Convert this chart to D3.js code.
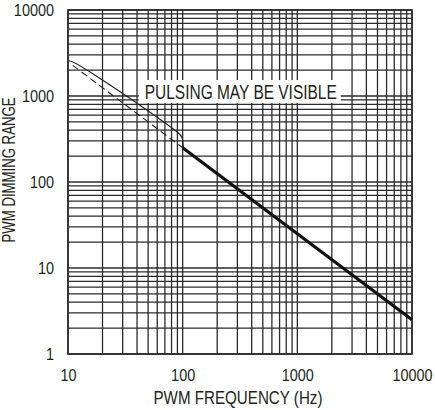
<!DOCTYPE html>
<html>
<head>
<meta charset="utf-8">
<script src="https://cdn.jsdelivr.net/npm/d3@7"></script>
<style>
  body { margin: 0; background: #fff; }
  text { font-family: "Liberation Sans Narrow", "Arial Narrow", "Liberation Sans", sans-serif; fill: #231f20; }
</style>
</head>
<body>
<div id="chart"></div>
<script>
// axis ticks
const xTickValues = [10, 100, 1000, 10000];
const xTickLabels = ['10', '100', '1000', '10000'];
const yTickValues = [1, 10, 100, 1000, 10000];
const yTickLabels = ['1', '10', '100', '1000', '10000'];

// thick line: max dimming range vs PWM frequency
const rangeFreq = [100, 10000];
const rangeValue = [250, 2.5];

// dashed extension below 100Hz
const dashFreq = [11, 100];
const dashValue = [2270, 250];

// outline of the "pulsing may be visible" region
const zoneFreq = [10.1, 11.6, 94, 100, 101.5];
const zoneValue = [2560, 2540, 380, 330, 245];

const labelText = 'PULSING MAY BE VISIBLE';
const labelFreq = 44;
const labelValue = 1000;

const width = 435;
const height = 410;
const margin = { top: 10, right: 23, bottom: 56, left: 68 };
const chartWidth = width - margin.left - margin.right;
const chartHeight = height - margin.top - margin.bottom;
const squeeze = 0.85; // no narrow font installed

function fitWidth(sel, target) {
    sel.attr('textLength', target).attr('lengthAdjust', 'spacingAndGlyphs');
}

const xScale = d3.scaleLog()
    .domain([10, 10000])
    .range([0, chartWidth]);

const yScale = d3.scaleLog()
    .domain([1, 10000])
    .range([chartHeight, 0]);

let svg = d3.select('#chart')
    .append('svg')
    .attr('width', width)
    .attr('height', height);

let graph = svg.append('g')
    .attr('transform', `translate(${margin.left},${margin.top})`);

// grid (every 1..9 per decade)
graph.append('g')
    .selectAll('line')
    .data(xScale.ticks())
    .enter()
    .append('line')
    .attr('x1', d => xScale(d))
    .attr('x2', d => xScale(d))
    .attr('y1', 0)
    .attr('y2', chartHeight)
    .attr('stroke', '#2b2b2b')
    .attr('stroke-width', 1.3);

graph.append('g')
    .selectAll('line')
    .data(yScale.ticks())
    .enter()
    .append('line')
    .attr('y1', d => yScale(d))
    .attr('y2', d => yScale(d))
    .attr('x1', 0)
    .attr('x2', chartWidth)
    .attr('stroke', '#2b2b2b')
    .attr('stroke-width', 1.3);

graph.append('rect')
    .attr('width', chartWidth)
    .attr('height', chartHeight)
    .attr('fill', 'none')
    .attr('stroke', '#2b2b2b')
    .attr('stroke-width', 1.6);

// x axis labels
graph.append('g')
    .attr('transform', `translate(0,${chartHeight})`)
    .call(d3.axisBottom(xScale).tickValues(xTickValues).tickFormat((d, i) => xTickLabels[i]).tickSize(0).tickPadding(15))
    .call(g => g.select('.domain').remove())
    .selectAll('text')
    .attr('font-size', 17)
    .attr('fill', null)
    .attr('transform', `scale(${squeeze},1)`);

// y axis labels
graph.append('g')
    .call(d3.axisLeft(yScale).tickValues(yTickValues).tickFormat((d, i) => yTickLabels[i]).tickSize(0).tickPadding(14))
    .call(g => g.select('.domain').remove())
    .selectAll('text')
    .attr('font-size', 17)
    .attr('fill', null)
    .attr('x', -14 / squeeze)
    .attr('dy', '0.3em')
    .attr('transform', `scale(${squeeze},1)`);

svg.selectAll('g').attr('font-family', null);

// axis titles
svg.append('text')
    .attr('x', 238)
    .attr('y', 404)
    .attr('text-anchor', 'middle')
    .attr('font-size', 18)
    .text('PWM FREQUENCY (Hz)')
    .call(fitWidth, 169);

svg.append('text')
    .attr('transform', 'translate(15,170) rotate(-90)')
    .attr('text-anchor', 'middle')
    .attr('font-size', 18)
    .text('PWM DIMMING RANGE')
    .call(fitWidth, 145);

// region outline + dashed line
const line = d3.line()
    .x(d => xScale(d[0]))
    .y(d => yScale(d[1]));

graph.append('path')
    .datum(zoneFreq.map((f, i) => [f, zoneValue[i]]))
    .attr('d', line.curve(d3.curveBasis))
    .attr('fill', 'none')
    .attr('stroke', '#231f20')
    .attr('stroke-width', 1.1);

graph.append('path')
    .datum(dashFreq.map((f, i) => [f, dashValue[i]]))
    .attr('d', line.curve(d3.curveLinear))
    .attr('fill', 'none')
    .attr('stroke', '#231f20')
    .attr('stroke-width', 1.1)
    .attr('stroke-dasharray', '7,4');

graph.append('path')
    .datum(rangeFreq.map((f, i) => [f, rangeValue[i]]))
    .attr('d', line.curve(d3.curveLinear))
    .attr('fill', 'none')
    .attr('stroke', '#111')
    .attr('stroke-width', 3.2);

// label with white box
let label = graph.append('g');
let box = label.append('rect').attr('fill', '#fff');
let txt = label.append('text')
    .attr('x', xScale(labelFreq) + 3)
    .attr('y', yScale(labelValue) + 3)
    .attr('font-size', 19.5)
    .text(labelText)
    .call(fitWidth, 192);
let bb = txt.node().getBBox();
box.attr('x', bb.x - 6)
    .attr('y', yScale(labelValue) - 16)
    .attr('width', bb.width + 10)
    .attr('height', 23);
</script>
</body>
</html>
